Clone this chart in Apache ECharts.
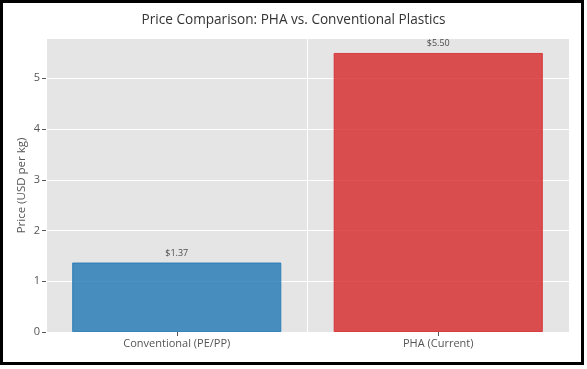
<!DOCTYPE html>
<html><head><meta charset="utf-8">
<script src="https://cdn.jsdelivr.net/npm/echarts@6/dist/echarts.min.js"></script>
<style>html,body{margin:0;padding:0;background:#fff}#c{width:587px;height:369px}</style>
</head><body><div id="c"></div>
<script>
const categories = ['Conventional (PE/PP)', 'PHA (Current)'];
const prices = [1.37, 5.50];
const barColors = ['#1f77b4', '#d62728'];
const yTicks = [0, 1, 2, 3, 4, 5];

const chart = echarts.init(document.getElementById('c'), null, {renderer: 'canvas'});
const FONT = 'Open Sans';
chart.setOption({
  animation: false,
  backgroundColor: '#fff',
  title: {
    text: 'Price Comparison: PHA vs. Conventional Plastics',
    left: 'center', top: 8,
    textStyle: {fontFamily: FONT, fontSize: 13.6, fontWeight: 'normal', color: '#333'}
  },
  grid: {left: 46, right: 18, top: 39, bottom: 37, show: true, backgroundColor: '#e5e5e5', borderWidth: 0},
  xAxis: {
    type: 'category', data: categories,
    axisLine: {show: false},
    axisTick: {show: true, alignWithLabel: true, length: 4, lineStyle: {color: '#555'}},
    axisLabel: {fontFamily: FONT, fontSize: 11, color: '#555', margin: 6},
    splitLine: {show: true, lineStyle: {color: '#fff', width: 1}}
  },
  yAxis: {
    type: 'value', min: 0, max: 5.775, interval: 1,
    name: 'Price (USD per kg)', nameLocation: 'middle', nameGap: 18, nameMoveOverlap: false,
    nameTextStyle: {fontFamily: FONT, fontSize: 11.5, color: '#555'},
    axisLine: {show: false},
    axisTick: {show: true, length: 4, lineStyle: {color: '#555'}, customValues: yTicks},
    axisLabel: {fontFamily: FONT, fontSize: 11, color: '#555', margin: 6, customValues: yTicks},
    splitLine: {show: true, lineStyle: {color: '#fff', width: 1}}
  },
  series: [{
    type: 'bar', barWidth: '80%',
    data: prices.map((v, i) => ({value: v, itemStyle: {color: barColors[i], opacity: 0.8, borderColor: barColors[i], borderWidth: 1}})),
    label: {show: true, position: 'top', distance: 5, formatter: p => '$' + p.value.toFixed(2),
      fontFamily: FONT, fontSize: 9, color: '#222'}
  }],
  graphic: [{
    type: 'rect', shape: {x: 1.5, y: 1.5, width: 581, height: 362},
    style: {fill: 'none', stroke: '#000', lineWidth: 3}, z: 100
  }]
});
</script></body></html>
